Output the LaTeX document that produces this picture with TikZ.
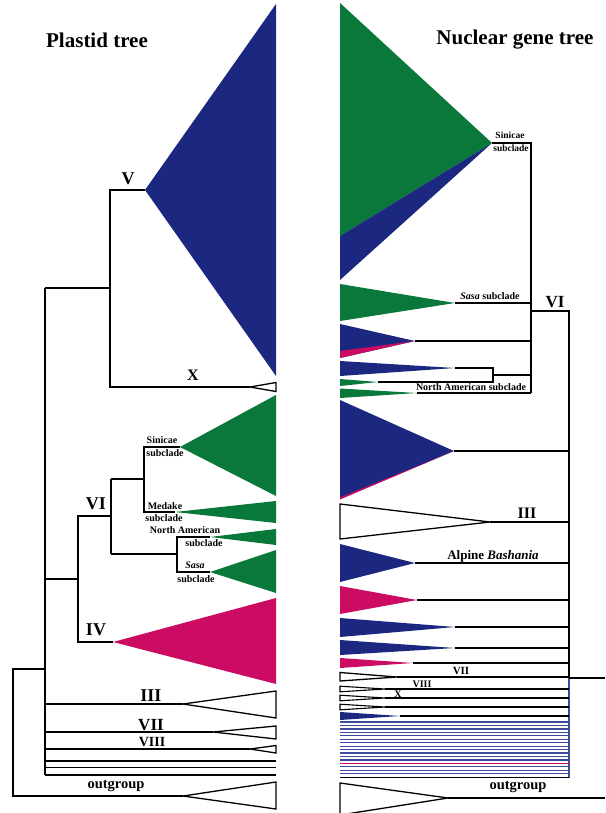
\documentclass[tikz,border=0pt]{standalone}
\usepackage{fontspec}
\setmainfont{Liberation Serif}
\definecolor{cblue}{RGB}{28,40,128}
\definecolor{cgreen}{RGB}{10,120,58}
\definecolor{cpink}{RGB}{204,12,98}
\definecolor{lblue}{RGB}{60,75,160}
\begin{document}
\begin{tikzpicture}[x=1pt,y=-1pt,
  br/.style={draw=black,line width=1.4pt},
  wt/.style={draw=black,fill=white,line width=1.3pt,line join=miter},
  lab/.style={font=\bfseries\fontsize{10}{10}\selectfont,inner sep=0pt},
  num/.style={font=\bfseries\fontsize{18}{18}\selectfont,inner sep=0pt},
  ttl/.style={font=\bfseries\fontsize{21}{21}\selectfont,inner sep=0pt}]
\fill[white] (0,0) rectangle (605,813);
\useasboundingbox (0,0) rectangle (605,813);

% ---------------- titles
\node[ttl] (t1) at (97,40) {Plastid tree};
\node[ttl] (t2) at (515,40) {Nuclear gene tree};

% ================= LEFT: plastid tree
\coordinate (L0t) at (13,669);
\coordinate (L0b) at (13,796);
\coordinate (Lin) at (45,669);
\coordinate (Ltop) at (45,288);
\coordinate (Lbot) at (45,775);
\coordinate (LogA) at (183,796);
\draw[br] (Lin) -- (L0t) -- (L0b) -- (LogA);
\filldraw[wt] (LogA) -- (276,782) -- (276,809) -- cycle;
\node[lab,font=\bfseries\fontsize{14.5}{14.5}\selectfont] (logl) at (116,786) {outgroup};
\draw[br] (Ltop) -- (Lbot);

% V / X clade
\coordinate (LVX) at (110,288);
\coordinate (LVj) at (110,190);
\coordinate (LXj) at (110,387);
\coordinate (LVa) at (145,190);
\coordinate (LXa) at (250,387);
\fill[cblue] (LVa) -- (276,4) -- (276,376) -- cycle;
\draw[br] (Ltop) -- (LVX);
\draw[br] (LVa) -- (LVj) -- (LXj) -- (LXa);
\filldraw[wt] (LXa) -- (276,382.5) -- (276,391.5) -- cycle;
\node[num] (lV) at (128,179) {V};
\node[num,font=\bfseries\fontsize{16}{16}\selectfont] (lX) at (193,375) {X};

% VI / IV clade
\coordinate (L64) at (45,579);
\coordinate (L64j) at (78,579);
\coordinate (L6j) at (78,516);
\coordinate (L4j) at (78,642);
\coordinate (L6a) at (111,516);
\coordinate (L4a) at (113,642);
\draw[br] (L64) -- (L64j);
\draw[br] (L6a) -- (L6j) -- (L4j) -- (L4a);
\fill[cpink] (L4a) -- (276,598) -- (276,684) -- cycle;
\node[num] (lVI) at (96,504) {VI};
\node[num] (lIV) at (96,630) {IV};

\coordinate (L6t) at (111,479);
\coordinate (L6b) at (111,554);
\draw[br] (L6t) -- (L6b);
\coordinate (LSMj) at (144,479);
\coordinate (LSj) at (144,447);
\coordinate (LMj) at (144,512);
\coordinate (LSa) at (180,447);
\coordinate (LMa) at (175,512);
\draw[br] (L6t) -- (LSMj);
\draw[br] (LSa) -- (LSj) -- (LMj) -- (LMa);
\fill[cgreen] (LSa) -- (276,395) -- (276,496) -- cycle;
\fill[cgreen] (LMa) -- (276,501) -- (276,523) -- cycle;

\coordinate (LNSj) at (177,554);
\coordinate (LNj) at (177,537);
\coordinate (LSsj) at (177,572);
\coordinate (LNa) at (210,537);
\coordinate (LSsa) at (210,572);
\draw[br] (L6b) -- (LNSj);
\draw[br] (LNa) -- (LNj) -- (LSsj) -- (LSsa);
\fill[cgreen] (LNa) -- (276,529) -- (276,545) -- cycle;
\fill[cgreen] (LSsa) -- (276,550) -- (276,593) -- cycle;

\node[lab] (ls1) at (162,440) {Sinicae};
\node[lab] (ls2) at (165,453) {subclade};
\node[lab] (lm1) at (165,506) {Medake};
\node[lab] (lm2) at (164,518) {subclade};
\node[lab] (ln1) at (185,530) {North American};
\node[lab] (ln2) at (204,543) {subclade};
\node[lab] (la1) at (195,565) {\textit{Sasa}};
\node[lab] (la2) at (196,579) {subclade};

% lower clades
\coordinate (L3) at (45,704);  \coordinate (L3a) at (183,704);
\coordinate (L7) at (45,732);  \coordinate (L7a) at (213,732);
\coordinate (L8) at (45,749);  \coordinate (L8a) at (250,749);
\draw[br] (L3) -- (L3a);
\draw[br] (L7) -- (L7a);
\draw[br] (L8) -- (L8a);
\filldraw[wt] (L3a) -- (276,691) -- (276,718) -- cycle;
\filldraw[wt] (L7a) -- (276,726) -- (276,739) -- cycle;
\filldraw[wt] (L8a) -- (276,745.5) -- (276,753) -- cycle;
\foreach \yy/\nm in {761/la,767.5/lb,775/lc}{
  \coordinate (P\nm) at (45,\yy); \coordinate (Q\nm) at (276,\yy);
  \draw[br] (P\nm) -- (Q\nm);}
\node[num] (lIII) at (151,696) {III};
\node[num,font=\bfseries\fontsize{17}{17}\selectfont] (lVII) at (151,725) {VII};
\node[num,font=\bfseries\fontsize{14}{14}\selectfont] (lVIII) at (152,742) {VIII};

% ================= RIGHT: nuclear gene tree
\coordinate (RSa) at (492,143);
\coordinate (RSj) at (531,143);
\coordinate (RVIb) at (531,393);
\fill[cgreen] (340,3) -- (340,236) -- (RSa) -- cycle;
\fill[cblue] (340,236) -- (340,280) -- (RSa) -- cycle;
\draw[br] (RSa) -- (RSj) -- (RVIb);
\node[lab,font=\bfseries\fontsize{9.5}{9.5}\selectfont] (rs1) at (510,135) {Sinicae};
\node[lab,font=\bfseries\fontsize{9.5}{9.5}\selectfont] (rs2) at (511,148) {subclade};

% Sasa
\coordinate (RSsa) at (455,303); \coordinate (RSsj) at (531,303);
\fill[cgreen] (340,284) -- (340,321) -- (RSsa) -- cycle;
\draw[br] (RSsa) -- (RSsj);
\node[lab] (rsa) at (490,296) {\textit{Sasa} subclade};

% blue with pink
\coordinate (RB1a) at (415,341); \coordinate (RB1j) at (531,341);
\fill[cblue] (340,324) -- (340,358) -- (RB1a) -- cycle;
\fill[cpink] (340,351) -- (340,358) -- (RB1a) -- cycle;
\draw[br] (RB1a) -- (RB1j);

% small pair
\coordinate (RB2a) at (455,368); \coordinate (RB2j) at (493,368);
\coordinate (RG2a) at (378,382); \coordinate (RG2j) at (493,382);
\coordinate (RP2) at (493,375); \coordinate (RP2j) at (531,375);
\fill[cblue] (340,361) -- (340,376) -- (RB2a) -- cycle;
\fill[cgreen] (340,379) -- (340,386) -- (RG2a) -- cycle;
\draw[br] (RB2a) -- (RB2j) -- (RG2j) -- (RG2a);
\draw[br] (RP2) -- (RP2j);

% North American
\coordinate (RNa) at (417,393);
\fill[cgreen] (340,388.5) -- (340,398) -- (RNa) -- cycle;
\draw[br] (RNa) -- (RVIb);
\node[lab] (rna) at (471,387) {North American subclade};

% VI
\coordinate (RVI) at (531,311); \coordinate (RVIj) at (569,311);
\coordinate (RMb) at (569,678); \coordinate (RMbb) at (569,778);
\coordinate (Rroot) at (605,678);
\draw[br] (RVI) -- (RVIj) -- (RMb);
\draw[line width=1.4pt,draw=lblue] (RMb) -- (RMbb);
\draw[br] (RMb) -- (Rroot);
\node[num,font=\bfseries\fontsize{17}{17}\selectfont] (rVI) at (555,302) {VI};

% big blue
\coordinate (RBBa) at (454,451); \coordinate (RBBj) at (569,451);
\fill[cblue] (340,400) -- (340,499) -- (RBBa) -- cycle;
\fill[cpink] (340,497.5) -- (340,499.5) -- (RBBa) -- cycle;
\draw[br] (RBBa) -- (RBBj);

% III
\coordinate (R3a) at (490,522); \coordinate (R3j) at (569,522);
\filldraw[wt] (340,504) -- (340,539) -- (R3a) -- cycle;
\draw[br] (R3a) -- (R3j);
\node[num,font=\bfseries\fontsize{16}{16}\selectfont] (rIII) at (527,513) {III};

% Alpine Bashania
\coordinate (RAa) at (415,563); \coordinate (RAj) at (569,563);
\fill[cblue] (340,544) -- (340,582) -- (RAa) -- cycle;
\draw[br] (RAa) -- (RAj);
\node[lab,font=\bfseries\fontsize{13}{13}\selectfont] (ralp) at (493,556) {Alpine \textit{Bashania}};

% pink, blue, blue, pink
\coordinate (RPa) at (417,600); \coordinate (RPj) at (569,600);
\fill[cpink] (340,586) -- (340,614) -- (RPa) -- cycle;
\draw[br] (RPa) -- (RPj);
\coordinate (RC1a) at (455,627); \coordinate (RC1j) at (569,627);
\fill[cblue] (340,618) -- (340,637) -- (RC1a) -- cycle;
\draw[br] (RC1a) -- (RC1j);
\coordinate (RC2a) at (455,648); \coordinate (RC2j) at (569,648);
\fill[cblue] (340,640) -- (340,655) -- (RC2a) -- cycle;
\draw[br] (RC2a) -- (RC2j);
\coordinate (RP3a) at (413,663); \coordinate (RP3j) at (569,663);
\fill[cpink] (340,658) -- (340,668) -- (RP3a) -- cycle;
\draw[br] (RP3a) -- (RP3j);

% VII, VIII, X, ...
\coordinate (R7a) at (397,677); \coordinate (R7j) at (569,677);
\filldraw[wt] (340,672.5) -- (340,681) -- (R7a) -- cycle;
\draw[br] (R7a) -- (R7j);
\foreach \yy/\nm in {689/a,698/b,707/c}{
  \coordinate (RS\nm a) at (385,\yy); \coordinate (RS\nm j) at (569,\yy);
  \filldraw[wt,line width=1.1pt] (340,\yy-2.8) -- (340,\yy+2.8) -- (RS\nm a) -- cycle;
  \draw[br] (RS\nm a) -- (RS\nm j);}
\coordinate (RSda) at (400,716); \coordinate (RSdj) at (569,716);
\fill[cblue] (340,712) -- (340,720) -- (RSda) -- cycle;
\draw[br] (RSda) -- (RSdj);
\node[lab,font=\bfseries\fontsize{11}{11}\selectfont] (rVII) at (461,671) {VII};
\node[lab,font=\bfseries\fontsize{10}{10}\selectfont] (rVIII) at (422,684) {VIII};
\node[lab,font=\bfseries\fontsize{10}{10}\selectfont] (rX) at (398,694) {X};

% many thin lines
\foreach \i in {0,...,16}{
  \pgfmathsetmacro{\yy}{722+3.45*\i}
  \coordinate (RL\i) at (340,\yy); \coordinate (RLj\i) at (569,\yy);
  \ifnum\i=12
    \draw[line width=1.2pt,draw=cpink] (RL\i) -- (RLj\i);
  \else\ifnum\i=16
    \draw[line width=1.3pt,draw=black] (RL\i) -- (RLj\i);
  \else
    \draw[line width=1.2pt,draw=lblue] (RL\i) -- (RLj\i);
  \fi\fi}

% outgroup
\coordinate (ROa) at (448,798); \coordinate (ROj) at (605,798);
\filldraw[wt] (340,783) -- (340,815) -- (ROa) -- cycle;
\draw[br] (ROa) -- (ROj);
\node[lab,font=\bfseries\fontsize{14.5}{14.5}\selectfont] (rog) at (518,787) {outgroup};
\end{tikzpicture}
\end{document}
